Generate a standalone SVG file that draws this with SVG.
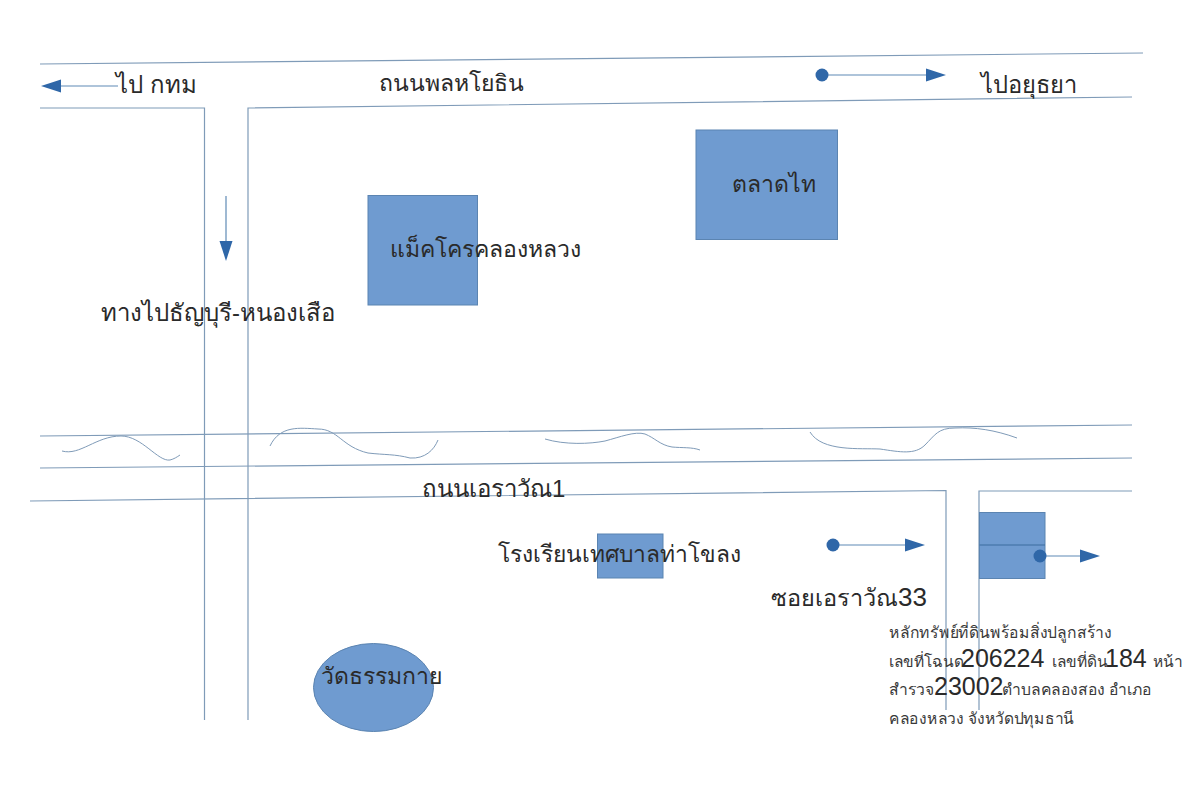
<svg xmlns="http://www.w3.org/2000/svg" width="1200" height="791" viewBox="0 0 1200 791">
<style>
.r{fill:none;stroke:#7f9bb8;stroke-width:1.2}
.w{fill:none;stroke:#7f9bb8;stroke-width:1}
.a{fill:none;stroke:#5f8ab5;stroke-width:1.2}
.h{fill:#2f67a8;stroke:none}
.b{fill:#6f9bd0;stroke:#5b84b1;stroke-width:1}
.t{font-family:"Liberation Sans","Noto Sans",Arial,sans-serif;font-size:24px;fill:#2a2a2a}
.s{font-family:"Liberation Sans","Noto Sans",Arial,sans-serif;font-size:16px;fill:#3a3a3a}
.n{font-size:25px;fill:#2a2a2a}
</style>
<rect width="1200" height="791" fill="#fff"/>
<g id="connectors">
<path class="r" d="M40 64L1143 53"/>
<path class="r" d="M40 108H204.500V720"/>
<path class="r" d="M248 720V108L1132 97"/>
<path class="r" d="M40 436L1132 425"/>
<path class="r" d="M40 468L1132 458"/>
<path class="r" d="M30 501L946 490.500V710"/>
<path class="r" d="M979 710V491H1132"/>
<path class="w" d="M62 451C80 456 96 436 121 436C142 436 158 462 170 460C174 459 177 457 180 455"/>
<path class="w" d="M270 446C280 425 300 428 318 429C338 429 342 447 368 453C385 455 395 454 410 458C425 459 434 450 438 440"/>
<path class="w" d="M545 439C565 445 590 444 605 441C620 437 635 431 645 434C655 438 660 445 672 447C682 448 692 447 700 450"/>
<path class="w" d="M810 432C822 452 860 448 880 449C900 452 915 455 925 445C935 435 938 428 955 428C975 427 995 430 1017 438"/>
<path class="a" d="M118 86H58"/><path class="h" d="M41 86L61 79.500V92.500Z"/>
<path class="a" d="M822 75H928"/><circle class="h" cx="822" cy="75" r="6.500"/><path class="h" d="M946 75L926 68.500V81.500Z"/>
<path class="a" d="M226 196V242"/><path class="h" d="M226 261L219.500 241H232.500Z"/>
<path class="a" d="M833 545H907"/><circle class="h" cx="833" cy="545" r="6.500"/><path class="h" d="M925 545L905 538.500V551.500Z"/>
</g>
<g id="node-market"><rect class="b" x="696" y="130" width="141.500" height="109.500"/><text class="t" x="732" y="192" style="font-size:23px">ตลาดไท</text></g>
<g id="node-makro"><rect class="b" x="368" y="195.500" width="109.500" height="109.500"/><text class="t" x="390" y="257" style="font-size:23px">แม็คโครคลองหลวง</text></g>
<g id="node-school"><rect class="b" x="597.500" y="534" width="65.500" height="44"/><text class="t" x="498" y="562" style="font-size:22.800px">โรงเรียนเทศบาลท่าโขลง</text></g>
<g id="node-temple"><ellipse class="b" cx="373.500" cy="687.500" rx="60" ry="44"/><text class="t" x="321" y="684" style="font-size:23px">วัดธรรมกาย</text></g>
<g id="node-plot"><rect class="b" x="979.500" y="512.500" width="65.500" height="66"/><path d="M979.500 545H1045" fill="none" stroke="#3d6d9f" stroke-width="1"/><path class="a" d="M1040 556H1082"/><circle class="h" cx="1040" cy="556" r="6.500"/><path class="h" d="M1100 556L1080 549.500V562.500Z"/></g>
<g id="labels">
<text class="t" x="116" y="93">ไป กทม</text>
<text class="t" x="379" y="91" style="font-size:23px">ถนนพลหโยธิน</text>
<text class="t" x="981" y="93" style="font-size:23.700px">ไปอยุธยา</text>
<text class="t" x="101" y="321">ทางไปธัญบุรี-หนองเสือ</text>
<text class="t" x="422" y="497">ถนนเอราวัณ1</text>
<text class="t" x="771" y="606" style="font-size:23.500px">ซอยเอราวัณ<tspan style="font-size:26px">33</tspan></text>
<text class="s" x="889" y="638" textLength="223" lengthAdjust="spacingAndGlyphs">หลักทรัพย์ที่ดินพร้อมสิ่งปลูกสร้าง</text>
<text class="s" x="889" y="667" style="font-size:15.500px">เลขที่โฉนด<tspan class="n" x="961">206224</tspan><tspan x="1048"> เลขที่ดิน</tspan><tspan class="n" x="1105">184</tspan><tspan x="1153">หน้า</tspan></text>
<text class="s" x="889" y="695" style="font-size:15.700px">สำรวจ<tspan class="n" x="934">23002</tspan><tspan x="1002">ตำบลคลองสอง อำเภอ</tspan></text>
<text class="s" x="889" y="724" textLength="185" lengthAdjust="spacingAndGlyphs">คลองหลวง จังหวัดปทุมธานี</text>
</g>
</svg>
